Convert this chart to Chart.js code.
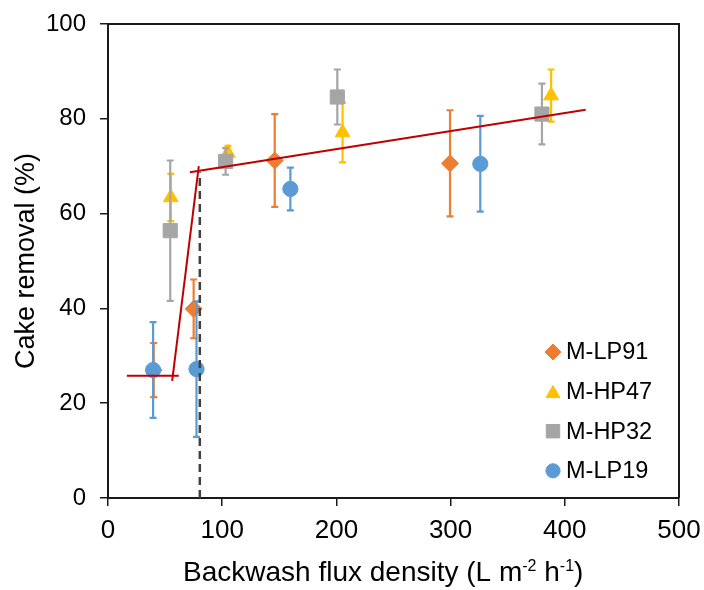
<!DOCTYPE html>
<html>
<head>
<meta charset="utf-8">
<title>Cake removal vs backwash flux density</title>
<script src="https://cdn.jsdelivr.net/npm/chart.js@4.4.1/dist/chart.umd.min.js"></script>
<style>
  html, body { margin: 0; padding: 0; background: #fff; }
  #wrap { width: 704px; height: 590px; }
</style>
</head>
<body>
<div id="wrap"><canvas id="chart" width="704" height="590"></canvas></div>
<script>
// --- data ---
const seriesNames = ['M-LP91', 'M-HP47', 'M-HP32', 'M-LP19'];

const xLP91 = [40, 75, 146, 299.5];
const yLP91 = [27, 39.9, 71.2, 70.6];
const eLP91 = [5.7, 6.2, 9.8, 11.2];

const xHP47 = [55, 105, 205.4, 388];
const yHP47 = [63.4, 72.8, 77.1, 84.9];
const eHP47 = [5, 1.5, 6.3, 5.5];

const xHP32 = [54.5, 103, 200.8, 380];
const yHP32 = [56.4, 71, 84.6, 81];
const eHP32 = [14.8, 2.8, 5.8, 6.4];

const xLP19 = [39.5, 77.5, 159.7, 326];
const yLP19 = [27, 27.2, 65.2, 70.5];
const eLP19 = [10.1, 14.3, 4.5, 10.1];

// trend segments (red) and threshold marker (dashed)
const fit1X = [16.5, 62];
const fit1Y = [25.8, 25.8];
const fit2X = [56.2, 79.5];
const fit2Y = [24.7, 70];
const fit3X = [71.7, 418.3];
const fit3Y = [68.7, 81.9];
const threshX = [80.4, 80.4];
const threshY = [0, 68.7];

const xTicks = [0, 100, 200, 300, 400, 500];
const yTicks = [0, 20, 40, 60, 80, 100];

const colors = ['#ED7D31', '#FFC000', '#A5A5A5', '#5B9BD5'];
const styles = ['rectRot', 'triangle', 'rect', 'circle'];
const radii = [8.5, 8.5, 10, 7.6];

const FONT = '"Liberation Sans", Arial, Helvetica, sans-serif';

function pts(xs, ys) {
    return xs.map((x, i) => ({ x: x, y: ys[i] }));
}

function seriesDataset(i, xs, ys, errs) {
    return {
        label: seriesNames[i],
        data: pts(xs, ys),
        yErr: errs,
        borderColor: colors[i],
        backgroundColor: colors[i],
        pointStyle: styles[i],
        pointRadius: radii[i],
        pointBorderWidth: 1,
        showLine: false,
        order: 6 - i
    };
}

function lineDataset(xs, ys, color, dash, width) {
    return {
        data: pts(xs, ys),
        showLine: true,
        borderColor: color,
        borderWidth: width,
        borderDash: dash,
        pointRadius: 0,
        fill: false,
        order: 1
    };
}

// error bars drawn just before each series' markers
const errorBars = {
    id: 'errorBars',
    beforeDatasetDraw(chart, args) {
        const ds = chart.data.datasets[args.index];
        if (!ds.yErr) return;
        const ctx = chart.ctx;
        const ys = chart.scales.y;
        ctx.save();
        ctx.strokeStyle = ds.borderColor;
        ctx.lineWidth = 2.2;
        args.meta.data.forEach((pt, i) => {
            const v = ds.data[i].y;
            const e = ds.yErr[i];
            const top = ys.getPixelForValue(v + e);
            const bot = ys.getPixelForValue(v - e);
            const x = pt.x;
            ctx.beginPath();
            ctx.moveTo(x, top);
            ctx.lineTo(x, bot);
            ctx.moveTo(x - 3.5, top);
            ctx.lineTo(x + 3.5, top);
            ctx.moveTo(x - 3.5, bot);
            ctx.lineTo(x + 3.5, bot);
            ctx.stroke();
        });
        ctx.restore();
    }
};

// box, inside legend and x title with superscripts
const decorations = {
    id: 'decorations',
    afterDraw(chart) {
        const ctx = chart.ctx;
        const a = chart.chartArea;
        ctx.save();

        // top and right frame
        ctx.strokeStyle = '#1a1a1a';
        ctx.lineWidth = 2;
        ctx.beginPath();
        ctx.moveTo(a.left, a.top);
        ctx.lineTo(a.right, a.top);
        ctx.lineTo(a.right, a.bottom);
        ctx.stroke();

        // legend
        const lx = 553, ly = 352, step = 39.6;
        ctx.font = '23.5px ' + FONT;
        ctx.textBaseline = 'middle';
        ctx.textAlign = 'left';
        seriesNames.forEach((name, i) => {
            const y = ly + i * step;
            ctx.fillStyle = colors[i];
            ctx.strokeStyle = colors[i];
            ctx.lineWidth = 1;
            Chart.helpers.drawPoint(ctx, {
                pointStyle: styles[i],
                radius: radii[i] - 0.5,
                rotation: 0,
                borderWidth: 1
            }, lx, y + (styles[i] === 'triangle' ? 2 : 0));
            ctx.fillStyle = '#000';
            ctx.fillText(name, lx + 13, y + 1);
        });

        // x axis title
        const parts = [
            ['Backwash flux density (L m', 0],
            ['-2', 1],
            [' h', 0],
            ['-1', 1],
            [')', 0]
        ];
        ctx.fillStyle = '#000';
        ctx.textBaseline = 'alphabetic';
        let x = 183;
        const base = 581;
        parts.forEach(([t, sup]) => {
            ctx.font = (sup ? '16px ' : '28px ') + FONT;
            ctx.fillText(t, x, sup ? base - 10 : base);
            x += ctx.measureText(t).width;
        });

        // y axis title
        ctx.font = '27px ' + FONT;
        ctx.textAlign = 'center';
        ctx.textBaseline = 'middle';
        ctx.translate(27, (a.top + a.bottom) / 2);
        ctx.rotate(-Math.PI / 2);
        ctx.fillText('Cake removal (%)', 0, 0);
        ctx.restore();
    }
};

Chart.defaults.font.family = FONT;
Chart.defaults.color = '#000';

const datasets = [
    seriesDataset(0, xLP91, yLP91, eLP91),
    seriesDataset(1, xHP47, yHP47, eHP47),
    seriesDataset(2, xHP32, yHP32, eHP32),
    seriesDataset(3, xLP19, yLP19, eLP19),
    lineDataset(fit1X, fit1Y, '#C00000', [], 2),
    lineDataset(fit2X, fit2Y, '#C00000', [], 2),
    lineDataset(fit3X, fit3Y, '#C00000', [], 2),
    lineDataset(threshX, threshY, '#404040', [8, 5], 2.5)
];
datasets[7].order = 0;

new Chart(document.getElementById('chart'), {
    type: 'scatter',
    data: { datasets: datasets },
    options: {
        responsive: false,
        animation: false,
        layout: { padding: { top: 24, right: 25, left: 0, bottom: 0 } },
        plugins: {
            legend: { display: false },
            tooltip: { enabled: false }
        },
        scales: {
            x: {
                type: 'linear',
                min: 0,
                max: 500,
                afterBuildTicks(s) { s.ticks = xTicks.map(v => ({ value: v })); },
                afterFit(s) {
                    s.height = 92;
                    s.paddingLeft = 0;
                    s.paddingRight = 0;
                },
                ticks: { font: { size: 26 }, padding: 9, color: '#000' },
                grid: { drawOnChartArea: false, color: '#1a1a1a', tickLength: 8, lineWidth: 1.5 },
                border: { color: '#1a1a1a', width: 2 }
            },
            y: {
                type: 'linear',
                min: 0,
                max: 100,
                afterBuildTicks(s) { s.ticks = yTicks.map(v => ({ value: v })); },
                afterFit(s) {
                    s.width = 108;
                    s.paddingTop = 0;
                    s.paddingBottom = 0;
                },
                ticks: { font: { size: 24 }, padding: 14, color: '#000' },
                grid: { drawOnChartArea: false, color: '#1a1a1a', tickLength: 8, lineWidth: 1.5 },
                border: { color: '#1a1a1a', width: 2 }
            }
        }
    },
    plugins: [errorBars, decorations]
});
</script>
</body>
</html>
